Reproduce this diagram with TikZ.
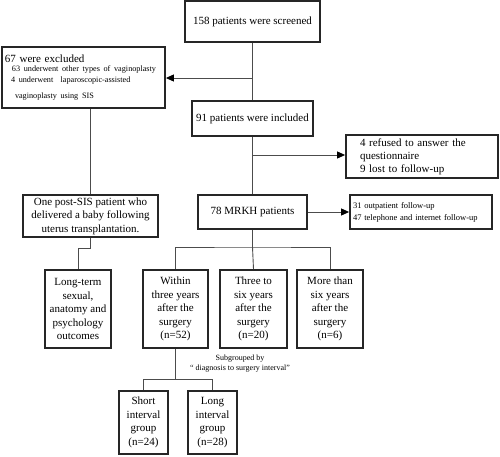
\documentclass[tikz,border=0pt]{standalone}
\usepackage{fontspec}
\setmainfont{Liberation Serif}
\usetikzlibrary{arrows.meta}
\tikzset{
  box/.style={draw=black!85, line width=1.8pt, fill=white, inner sep=0pt, align=center,
    font=\fontsize{11}{13.5}\selectfont},
  conn/.style={draw=black!70, line width=0.9pt},
  arr/.style={conn, -{Triangle[length=8pt,width=7pt,fill=black,color=black]}},
}
\begin{document}
\begin{tikzpicture}[x=1pt,y=-1pt]
\useasboundingbox (0,0) rectangle (500,456);
% nodes
\node[box, minimum width=135pt, minimum height=41pt] (screen) at (252.5,21.5) {158 patients were screened};
\node[box, minimum width=163pt, minimum height=61pt, align=left, text width=159pt] (excl) at (83.5,77.5)
  {\hspace*{1pt}67 were excluded\\[-2.5pt]
   {\fontsize{8.2}{11.5}\selectfont\hspace*{8pt}\mbox{63 underwent other types of vaginoplasty}\\
   \hspace*{7pt}4 underwent\ \ laparoscopic-assisted\\[2pt]
   \hspace*{11pt}vaginoplasty using SIS}};
\node[box, minimum width=121pt, minimum height=35pt] (incl) at (252.5,118.5) {91 patients were included};
\node[box, minimum width=152pt, minimum height=43pt, align=left, text width=140pt,
  font=\fontsize{11}{13}\selectfont] (refused) at (422,156.5)
  {\hspace*{8pt}4 refused to answer the\\\hspace*{8pt}questionnaire\\\hspace*{8pt}9 lost to follow-up};
\node[box, minimum width=109pt, minimum height=34pt] (mrkh) at (252.5,212) {78 MRKH patients};
\node[box, minimum width=142pt, minimum height=34pt, align=left, text width=136pt,
  font=\fontsize{8.5}{12}\selectfont] (follow) at (421,212)
  {31 outpatient follow-up\\47 telephone and internet follow-up};
\node[box, minimum width=135pt, minimum height=42pt, font=\fontsize{11}{13.5}\selectfont] (postsis) at (90.5,216)
  {One post-SIS patient who\\delivered a baby following\\uterus transplantation.};
\node[box, minimum width=66pt, minimum height=78pt] (longterm) at (78,309)
  {Long-term\\sexual,\\anatomy and\\psychology\\outcomes};
\node[box, minimum width=65pt, minimum height=78pt] (within) at (175.5,309)
  {Within\\three years\\after the\\surgery\\(n=52)};
\node[box, minimum width=67pt, minimum height=78pt] (three) at (253.5,309)
  {Three to\\six years\\after the\\surgery\\(n=20)};
\node[box, minimum width=66pt, minimum height=78pt] (more) at (330,309)
  {More than\\six years\\after the\\surgery\\(n=6)};
\node[box, minimum width=49pt, minimum height=63pt] (short) at (143.5,422.5)
  {Short\\interval\\group\\(n=24)};
\node[box, minimum width=49pt, minimum height=63pt] (long) at (212.5,422.5)
  {Long\\interval\\group\\(n=28)};
\node[align=center, inner sep=0pt, font=\fontsize{8}{10}\selectfont] (sub) at (240,364)
  {Subgrouped by\\`` diagnosis to surgery interval''};
% junctions
\coordinate (j1) at (252.5,78);
\coordinate (j2) at (252.5,155);
\coordinate (b1) at (252.5,247);
\coordinate (b2) at (175.5,379);
% connectors
\draw[conn] (screen.south) -- (incl.north);
\draw[arr] (j1) -- (excl.east |- j1);
\draw[conn] (incl.south) -- (mrkh.north);
\draw[arr] (j2) -- (refused.west |- j2);
\draw[arr] (mrkh.east) -- (follow.west);
\draw[conn] (postsis.north |- excl.south) -- (postsis.north);
\draw[conn] (postsis.south) -- ++(0,11) -| (longterm.north);
\draw[conn] (mrkh.south) -- (b1);
\draw[conn] (within.north) |- (b1) -| (more.north);
\draw[conn] (b1) -- (three.north);
\draw[conn] (within.south) -- (b2);
\draw[conn] (short.north) |- (b2) -| (long.north);
\end{tikzpicture}
\end{document}
